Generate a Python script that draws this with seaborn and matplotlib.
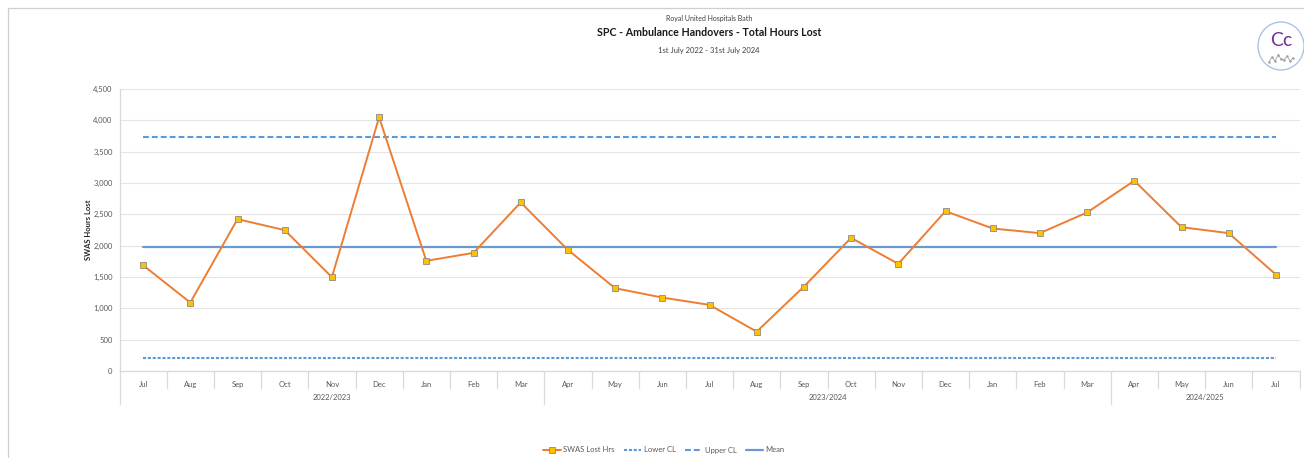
import numpy as np
import pandas as pd
import matplotlib
matplotlib.use("Agg")
import matplotlib.pyplot as plt
import matplotlib.transforms as mtransforms
from matplotlib.patches import Ellipse
from matplotlib.lines import Line2D
import seaborn as sns

# ---------------- data ----------------
months = ["Jul", "Aug", "Sep", "Oct", "Nov", "Dec", "Jan", "Feb", "Mar",
          "Apr", "May", "Jun", "Jul", "Aug", "Sep", "Oct", "Nov", "Dec", "Jan", "Feb", "Mar",
          "Apr", "May", "Jun", "Jul"]
swas_lost_hrs = [1688, 1092, 2423, 2248, 1497, 4048, 1758, 1885, 2690,
                 1933, 1321, 1172, 1055, 628, 1347, 2125, 1710, 2551, 2274, 2200, 2530,
                 3036, 2295, 2200, 1539]
fin_years = ["2022/2023", "2023/2024", "2024/2025"]
months_per_year = [9, 12, 4]
mean_value = 1971
lower_cl = 208
upper_cl = 3739
y_ticks = [0, 500, 1000, 1500, 2000, 2500, 3000, 3500, 4000, 4500]

# ---------------- style ----------------
sns.set_theme(style="white")
plt.rcParams['font.family'] = ['Lato', 'DejaVu Sans']
plt.rcParams['lines.scale_dashes'] = False

W, H = 1304, 458
fig = plt.figure(figsize=(W / 100, H / 100), dpi=100)
fig.patch.set_facecolor("white")

ax_left, ax_right, ax_top, ax_bottom = 119.5, 1299.5, 89, 371
ax = fig.add_axes([ax_left / W, (H - ax_bottom) / H,
                   (ax_right - ax_left) / W, (ax_bottom - ax_top) / H])
ax_h_px = ax_bottom - ax_top

n = len(months)
idx = np.arange(n)
df = pd.DataFrame({"idx": idx, "hrs": swas_lost_hrs,
                   "lcl": [lower_cl] * n, "ucl": [upper_cl] * n, "mean": [mean_value] * n})

blue = "#5B9BD5"
orange = "#ED7D31"
grey_txt = "#595959"
grid_c = "#e4e4e4"

sns.lineplot(data=df, x="idx", y="lcl", ax=ax, color=blue, lw=1.5,
             linestyle=(0, (2.2, 1.3)), zorder=2)
sns.lineplot(data=df, x="idx", y="ucl", ax=ax, color=blue, lw=1.5,
             linestyle=(0, (4.2, 2.2)), zorder=2)
sns.lineplot(data=df, x="idx", y="mean", ax=ax, color="#6A9BD0", lw=1.6, zorder=2)
sns.lineplot(data=df, x="idx", y="hrs", ax=ax, color=orange, lw=1.4,
             marker="s", markersize=4.2, markerfacecolor="#FFC000",
             markeredgecolor="#8a8a8a", markeredgewidth=0.6, zorder=3)

ax.set_xlim(-0.5, n - 0.5)
ax.set_ylim(0, 4500)
ax.set_yticks(y_ticks)
ax.set_yticklabels([f"{v:,}" for v in y_ticks])
ax.set_xticks(idx)
ax.set_xticklabels(months)
ax.tick_params(axis="y", length=0, pad=5, labelsize=5.5, labelcolor=grey_txt)
ax.tick_params(axis="x", length=0, pad=7, labelsize=5.5, labelcolor=grey_txt)
ax.set_xlabel("")
ax.set_ylabel("SWAS Hours Lost", fontsize=5.5, fontweight="bold", color="#262626", labelpad=1)
ax.yaxis.grid(True, color=grid_c, lw=0.8)
ax.set_axisbelow(True)
for s in ["top", "right"]:
    ax.spines[s].set_visible(False)
ax.spines["left"].set_color("#d9d9d9")
ax.spines["bottom"].set_color("#d9d9d9")
ax.spines["left"].set_linewidth(0.9)
ax.spines["bottom"].set_linewidth(0.9)

# multi-level category axis
trans = mtransforms.blended_transform_factory(ax.transData, ax.transAxes)
sep_c = "#d9d9d9"
month_depth = -17 / ax_h_px
year_depth = -33 / ax_h_px
bounds = np.cumsum(months_per_year)
for k in range(n - 1):
    depth = year_depth if (k + 1) in bounds[:-1] else month_depth
    ax.plot([k + 0.5, k + 0.5], [0, depth], transform=trans, color=sep_c, lw=0.9, clip_on=False)
ax.plot([-0.5, -0.5], [0, year_depth], transform=trans, color=sep_c, lw=0.9, clip_on=False)
ax.plot([n - 0.5, n - 0.5], [0, month_depth], transform=trans, color=sep_c, lw=0.9, clip_on=False)
start = 0
for fy, cnt in zip(fin_years, months_per_year):
    centre = start + (cnt - 1) / 2
    ax.text(centre, -27 / ax_h_px, fy, transform=trans, ha="center", va="center",
            fontsize=5.5, color=grey_txt)
    start += cnt

# titles
cx = 709 / W
fig.text(cx, 1 - 18 / H, "Royal United Hospitals Bath", ha="center", va="center",
         fontsize=5, color="#404040")
fig.text(cx, 1 - 32 / H, "SPC - Ambulance Handovers - Total Hours Lost", ha="center",
         va="center", fontsize=7.7, fontweight="bold", color="#1a1a1a")
fig.text(cx, 1 - 50 / H, "1st July 2022 - 31st July 2024", ha="center", va="center",
         fontsize=5.5, color="#404040")

# legend
handles = [
    Line2D([], [], color=orange, lw=1.4, marker="s", markersize=4.2,
           markerfacecolor="#FFC000", markeredgecolor="#8a8a8a", markeredgewidth=0.6),
    Line2D([], [], color=blue, lw=1.5, linestyle=(0, (2.2, 1.3))),
    Line2D([], [], color=blue, lw=1.5, linestyle=(0, (4.2, 2.2))),
    Line2D([], [], color="#6A9BD0", lw=1.6),
]
labels = ["SWAS Lost Hrs", "Lower CL", "Upper CL", "Mean"]
leg = fig.legend(handles, labels, loc="center", bbox_to_anchor=(664 / W, 8 / H), ncol=4,
                 frameon=False, fontsize=5.5, handlelength=2.3, columnspacing=1.2,
                 handletextpad=0.3)
for t in leg.get_texts():
    t.set_color(grey_txt)

# chart border (top and left)
fig.add_artist(Line2D([8 / W, 1], [1 - 8 / H, 1 - 8 / H], color="#cfcfcf", lw=0.9))
fig.add_artist(Line2D([8 / W, 8 / W], [0, 1 - 8 / H], color="#cfcfcf", lw=0.9))

# logo
fig.add_artist(Ellipse((1281 / W, 1 - 46 / H), 46 / W, 48 / H, facecolor="white",
                       edgecolor="#a9c4e8", lw=1.0, transform=fig.transFigure))
fig.text(1281 / W, 1 - 40 / H, "Cc", ha="center", va="center", fontsize=14,
         color="#7030A0")
zx = np.array([1269, 1272, 1275, 1278, 1281, 1284, 1287, 1290, 1293]) / W
zy = 1 - np.array([62, 57, 61, 55, 59, 60, 56, 61, 58]) / H
fig.add_artist(Line2D(zx, zy, color="#a0a0a0", lw=0.6, marker="o", markersize=0.8))

fig.savefig("out.png", dpi=100, facecolor="white")
